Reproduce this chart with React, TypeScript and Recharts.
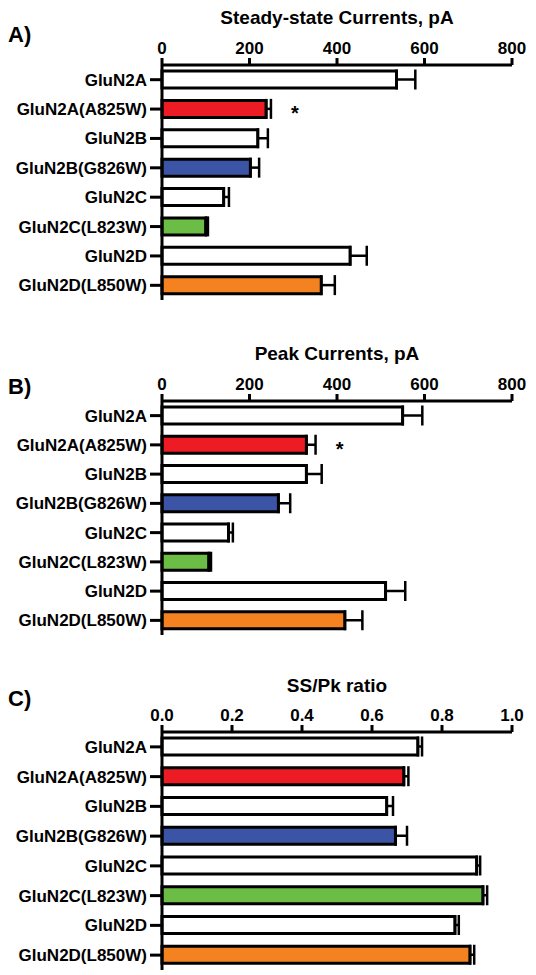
import React from "react";
import {
  BarChart,
  Bar,
  XAxis,
  YAxis,
  Cell,
  ErrorBar,
  LabelList,
} from "recharts";

const categories = [
  "GluN2A",
  "GluN2A(A825W)",
  "GluN2B",
  "GluN2B(G826W)",
  "GluN2C",
  "GluN2C(L823W)",
  "GluN2D",
  "GluN2D(L850W)",
];
const barColors = [
  "#ffffff",
  "#ed1c24",
  "#ffffff",
  "#3b54a5",
  "#ffffff",
  "#6cbd45",
  "#ffffff",
  "#f58220",
];
const steadyState = [536, 238, 219, 202, 141, 100, 430, 364];
const steadyStateErr = [43, 11, 23, 20, 12, 5, 38, 31];
const peak = [550, 330, 330, 266, 152, 107, 511, 418];
const peakErr = [45, 21, 35, 27, 10, 5, 45, 40];
const ratio = [0.731, 0.691, 0.642, 0.667, 0.899, 0.917, 0.837, 0.88];
const ratioErr = [0.012, 0.013, 0.018, 0.033, 0.01, 0.012, 0.011, 0.012];
const significant = [false, true, false, false, false, false, false, false];
const currentTicks = [0, 200, 400, 600, 800];
const ratioTicks = [0, 0.2, 0.4, 0.6, 0.8, 1.0];

const FONT = "'Liberation Sans', Arial, sans-serif";
const AXIS = { stroke: "#000", strokeWidth: 3 };

function buildRows(values: number[], errs: number[], sig?: boolean[]) {
  return categories.map((name, i) => ({
    name,
    value: values[i],
    err: [0, errs[i]],
    errHi: errs[i],
    star: sig && sig[i] ? "*" : "",
  }));
}

interface PanelProps {
  letter: string;
  title: string;
  rows: ReturnType<typeof buildRows>;
  domain: [number, number];
  ticks: number[];
  top: number;
  height: number;
  marginTop: number;
  axisHeight: number;
  letterY: number;
  format?: (v: number) => string;
}

// significance mark, placed just past the end of the error bar
function Star(props: any) {
  const { x, y, width, height, value, index, rows } = props;
  if (!value) return null;
  const row = rows[index];
  const errPx = row ? (width * row.errHi) / row.value : 0;
  return (
    <text
      x={x + width + errPx + 24}
      y={y + height / 2 + 11}
      textAnchor="middle"
      fontSize={20}
      fontWeight="bold"
      fontFamily={FONT}
      fill="#000"
    >
      {value}
    </text>
  );
}

function Panel({
  letter,
  title,
  rows,
  domain,
  ticks,
  top,
  height,
  marginTop,
  axisHeight,
  letterY,
  format,
}: PanelProps) {
  return (
    <>
      <div
        style={{
          position: "absolute",
          left: 8,
          top: letterY - 13,
          fontFamily: FONT,
          fontWeight: "bold",
          fontSize: 22,
          lineHeight: "26px",
        }}
      >
        {letter}
      </div>
      <div style={{ position: "absolute", left: 0, top }}>
        <BarChart
          width={536}
          height={height}
          data={rows}
          layout="vertical"
          barCategoryGap={0}
          barSize={17}
          margin={{ top: marginTop, right: 24, bottom: 2, left: 0 }}
        >
          <XAxis
            type="number"
            orientation="top"
            domain={domain}
            ticks={ticks}
            height={axisHeight}
            tickSize={7}
            tickMargin={4}
            axisLine={AXIS}
            tickLine={AXIS}
            tickFormatter={format}
            tick={{
              fill: "#000",
              fontSize: 17,
              fontWeight: "bold",
              fontFamily: FONT,
            }}
            label={{
              value: title,
              position: "top",
              offset: 4,
              fill: "#000",
              fontSize: 19,
              fontWeight: "bold",
              fontFamily: FONT,
            }}
          />
          <YAxis
            type="category"
            dataKey="name"
            width={162}
            interval={0}
            tickSize={12}
            tickMargin={3}
            axisLine={AXIS}
            tickLine={AXIS}
            tick={{
              fill: "#000",
              fontSize: 17,
              fontWeight: "bold",
              fontFamily: FONT,
            }}
          />
          <Bar
            dataKey="value"
            stroke="#000"
            strokeWidth={3}
            isAnimationActive={false}
          >
            {rows.map((r, i) => (
              <Cell key={r.name} fill={barColors[i]} />
            ))}
            <ErrorBar
              dataKey="err"
              direction="x"
              width={10}
              stroke="#000"
              strokeWidth={2.5}
              isAnimationActive={false}
            />
            <LabelList
              dataKey="star"
              content={(p: any) => <Star {...p} rows={rows} />}
            />
          </Bar>
        </BarChart>
      </div>
    </>
  );
}

export default function App() {
  return (
    <div
      style={{
        position: "absolute",
        left: 0,
        top: 0,
        width: 536,
        height: 975,
        background: "#fff",
        fontFamily: FONT,
      }}
    >
      <Panel
        letter="A)"
        title="Steady-state Currents, pA"
        rows={buildRows(steadyState, steadyStateErr, significant)}
        domain={[0, 800]}
        ticks={currentTicks}
        top={0}
        height={302}
        marginTop={28}
        axisHeight={37}
        letterY={35}
      />
      <Panel
        letter="B)"
        title="Peak Currents, pA"
        rows={buildRows(peak, peakErr, significant)}
        domain={[0, 800]}
        ticks={currentTicks}
        top={330}
        height={307}
        marginTop={34}
        axisHeight={37}
        letterY={387}
      />
      <Panel
        letter="C)"
        title="SS/Pk ratio"
        rows={buildRows(ratio, ratioErr)}
        domain={[0, 1]}
        ticks={ratioTicks}
        top={660}
        height={312}
        marginTop={36}
        axisHeight={36}
        letterY={699}
        format={(v) => v.toFixed(1)}
      />
    </div>
  );
}
